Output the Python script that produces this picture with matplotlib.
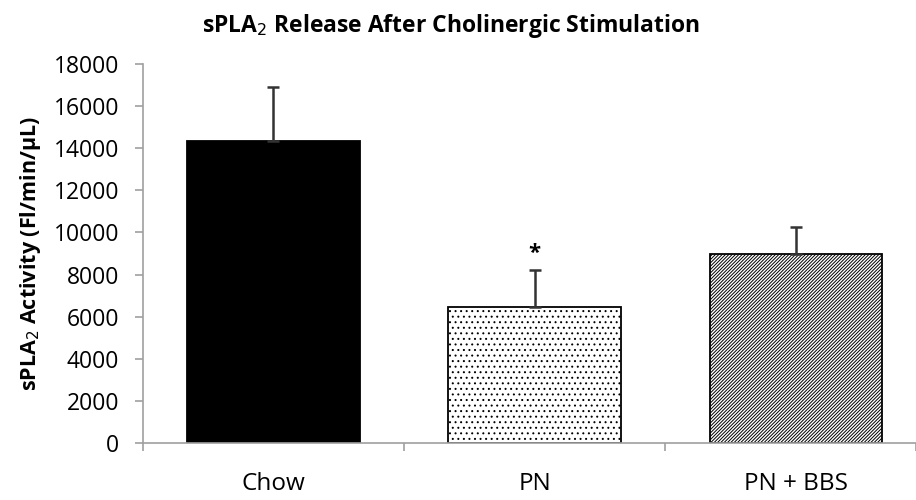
import numpy as np
import matplotlib.pyplot as plt

plt.rcParams['font.family'] = ['Open Sans', 'DejaVu Sans']
plt.rcParams['hatch.linewidth'] = 0.7

groups = ['Chow', 'PN', 'PN + BBS']
activity = [14330, 6480, 8960]
sem = [2560, 1720, 1310]
yticks = [0, 2000, 4000, 6000, 8000, 10000, 12000, 14000, 16000, 18000]

fig = plt.figure(figsize=(9.16, 5.0), dpi=100)
ax = fig.add_axes([0.156, 0.114, 0.844, 0.758])

x = np.arange(len(groups))
faces = ['black', 'white', 'white']
hatches = [None, '...', '//////////']
for i in range(len(groups)):
    ax.bar(x[i], activity[i], width=0.66, color=faces[i], edgecolor='black',
           linewidth=1.3, hatch=hatches[i], zorder=2)
    ax.errorbar(x[i], activity[i], yerr=[[0], [sem[i]]], fmt='none',
                ecolor='#333333', elinewidth=1.8, capsize=4, capthick=1.8, zorder=3)

ax.text(x[1], activity[1] + sem[1] + 800, '*', ha='center', va='center',
        fontsize=16, fontweight='bold')

ax.set_xlim(-0.5, 2.46)
ax.set_ylim(0, 18000)
ax.set_yticks(yticks)
ax.set_yticklabels([str(t) for t in yticks], fontsize=16.5)
ax.set_xticks(x)
ax.set_xticklabels(groups, fontsize=17.5)
ax.tick_params(axis='x', length=0, pad=21)
ax.set_xticks([-0.5, 0.5, 1.5, 2.46], minor=True)
ax.tick_params(axis='x', which='minor', length=6, color='#a0a0a0', width=1.2)
ax.tick_params(axis='y', length=6, color='#a0a0a0', width=1.2, pad=11)

for s in ['top', 'right']:
    ax.spines[s].set_visible(False)
for s in ['left', 'bottom']:
    ax.spines[s].set_color('#a0a0a0')
    ax.spines[s].set_linewidth(1.2)

ax.set_ylabel(r'sPLA$_2$ Activity (Fl/min/µL)', fontsize=15.5, fontweight='bold',
              labelpad=8)
fig.suptitle(r'sPLA$_2$ Release After Cholinergic Stimulation', x=0.492, y=0.975,
             fontsize=16.5, fontweight='bold')

fig.savefig('out.png', dpi=100)
